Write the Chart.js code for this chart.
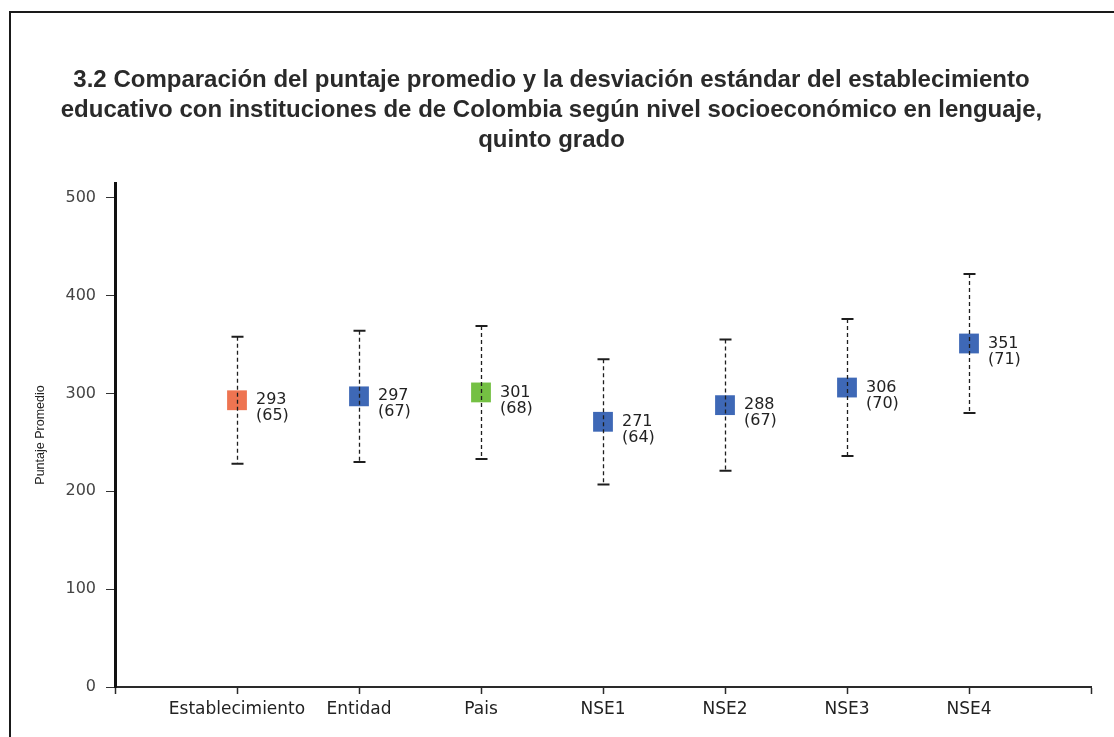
<!DOCTYPE html>
<html>
<head>
<meta charset="utf-8">
<script src="https://cdn.jsdelivr.net/npm/chart.js@4.4.0/dist/chart.umd.min.js"></script>
<style>
  html, body { margin: 0; padding: 0; background: #fff; }
  #wrap { position: relative; width: 1114px; height: 737px; }
  #marco { position: absolute; left: 9px; top: 11px; right: -10px; bottom: -10px;
           border-left: 2px solid #1a1a1a; border-top: 2px solid #1a1a1a; pointer-events: none; }
</style>
</head>
<body>
<div id="wrap">
  <canvas id="grafico" width="1114" height="737"></canvas>
  <div id="marco"></div>
</div>
<script>
var categorias = ['Establecimiento', 'Entidad', 'Pais', 'NSE1', 'NSE2', 'NSE3', 'NSE4'];
var promedios = [293, 297, 301, 271, 288, 306, 351];
var desviaciones = [65, 67, 68, 64, 67, 70, 71];
var colores = ['#EE7451', '#3E68B6', '#74C043', '#3E68B6', '#3E68B6', '#3E68B6', '#3E68B6'];
var yTicks = [0, 100, 200, 300, 400, 500];

var puntos = promedios.map(function(v, i) { return { x: i + 1, y: v }; });

// barras de error (promedio +/- desviacion), dibujadas con las escalas del grafico
var barrasError = {
  id: 'barrasError',
  afterDatasetsDraw: function(chart) {
    var ctx = chart.ctx;
    var xs = chart.scales.x, ys = chart.scales.y;
    ctx.save();
    ctx.strokeStyle = '#1e1e1e';
    promedios.forEach(function(v, i) {
      var px = Math.round(xs.getPixelForValue(i + 1)) + 0.5;
      var top = ys.getPixelForValue(v + desviaciones[i]);
      var bot = ys.getPixelForValue(v - desviaciones[i]);
      ctx.lineWidth = 1.3;
      ctx.setLineDash([4, 3]);
      ctx.beginPath();
      ctx.moveTo(px, top);
      ctx.lineTo(px, bot);
      ctx.stroke();
      ctx.setLineDash([]);
      ctx.lineWidth = 2;
      ctx.beginPath();
      ctx.moveTo(px - 6, top); ctx.lineTo(px + 6, top);
      ctx.moveTo(px - 6, bot); ctx.lineTo(px + 6, bot);
      ctx.stroke();
    });
    ctx.restore();
  }
};

// etiquetas "valor (desviacion)" a la derecha de cada punto
var etiquetas = {
  id: 'etiquetas',
  afterDatasetsDraw: function(chart) {
    var ctx = chart.ctx;
    var xs = chart.scales.x, ys = chart.scales.y;
    ctx.save();
    ctx.font = '16px "DejaVu Sans"';
    ctx.fillStyle = '#222';
    ctx.textAlign = 'left';
    ctx.textBaseline = 'middle';
    promedios.forEach(function(v, i) {
      var px = xs.getPixelForValue(i + 1) + 19;
      var py = ys.getPixelForValue(v);
      ctx.fillText(String(v), px, py);
      ctx.fillText('(' + desviaciones[i] + ')', px, py + 16);
    });
    ctx.restore();
  }
};

new Chart(document.getElementById('grafico').getContext('2d'), {
  type: 'scatter',
  data: {
    datasets: [{
      data: puntos,
      pointStyle: 'rect',
      pointRadius: 14,
      pointHoverRadius: 14,
      pointBackgroundColor: colores,
      pointBorderColor: colores,
      pointBorderWidth: 0,
      showLine: false
    }]
  },
  options: {
    responsive: false,
    animation: false,
    layout: { padding: { top: 65, left: 12, right: 23, bottom: 0 } },
    plugins: {
      legend: { display: false },
      tooltip: { enabled: false },
      title: {
        display: true,
        text: [
          '3.2 Comparación del puntaje promedio y la desviación estándar del establecimiento',
          'educativo con instituciones de de Colombia según nivel socioeconómico en lenguaje,',
          'quinto grado'
        ],
        color: '#2a2a2a',
        font: { family: '"Liberation Sans", Arial, sans-serif', size: 24, weight: 'bold', lineHeight: 1.25 },
        padding: { top: 0, bottom: 28 }
      }
    },
    scales: {
      x: {
        type: 'linear',
        min: 0,
        max: categorias.length + 1,
        afterBuildTicks: function(scale) {
          var t = [];
          for (var i = 0; i <= categorias.length + 1; i++) t.push({ value: i });
          scale.ticks = t;
        },
        afterFit: function(scale) { scale.height = 50; },
        border: { display: true, color: '#2a2a2a', width: 2 },
        grid: { drawOnChartArea: false, drawTicks: true, tickLength: 7, tickColor: '#2a2a2a', tickWidth: 1.5 },
        ticks: {
          autoSkip: false,
          maxRotation: 0,
          padding: 5,
          color: '#222',
          font: { family: '"DejaVu Sans"', size: 17 },
          callback: function(v) { return categorias[v - 1] || ''; }
        }
      },
      y: {
        min: 0,
        max: 515,
        afterBuildTicks: function(scale) {
          scale.ticks = yTicks.map(function(v) { return { value: v }; });
        },
        afterFit: function(scale) { scale.width = 103; },
        border: { display: true, color: '#111', width: 3 },
        grid: { drawOnChartArea: false, drawTicks: true, tickLength: 9, tickColor: '#333', tickWidth: 1 },
        ticks: {
          padding: 10,
          color: '#444',
          font: { family: '"DejaVu Sans"', size: 16 }
        },
        title: {
          display: true,
          text: 'Puntaje Promedio',
          color: '#222',
          font: { family: '"Liberation Sans", sans-serif', size: 12.5 },
          padding: { top: 21, bottom: 0 }
        }
      }
    }
  },
  plugins: [barrasError, etiquetas]
});
</script>
</body>
</html>
